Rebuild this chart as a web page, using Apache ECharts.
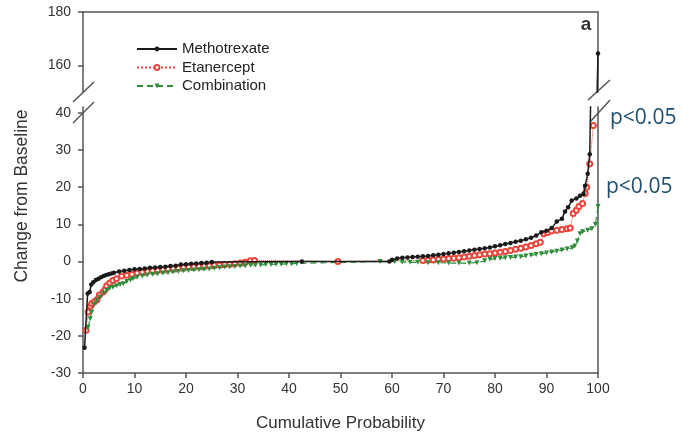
<!DOCTYPE html>
<html><head><meta charset="utf-8">
<script src="https://cdn.jsdelivr.net/npm/echarts@6/dist/echarts.min.js"></script>
<style>html,body{margin:0;padding:0;background:#fff}#c{width:689px;height:435px}</style>
</head><body><div id="c"></div>
<script>
// [cumulative probability %, change from baseline]
const methotrexate = [[0.3,-23.2],[0.9,-8.6],[1.3,-8.2],[1.6,-6.2],[2,-5.6],[2.5,-5.0],[3,-4.6],[3.5,-4.2],[4,-3.9],[4.5,-3.6],[5,-3.4],[5.5,-3.2],[6,-3.0],[7,-2.7],[8,-2.5],[9,-2.3],[10,-2.1],[11,-2.0],[12,-1.9],[13,-1.7],[14,-1.6],[15,-1.5],[16,-1.4],[17,-1.2],[18,-1.1],[19,-0.8],[20,-0.7],[21,-0.6],[22,-0.5],[23,-0.4],[24,-0.3],[25,-0.1],[42.5,0],[59.5,0],[60,0.5],[61,0.8],[62,1],[63,1.1],[64,1.2],[65,1.3],[66,1.4],[67,1.5],[68,1.7],[69,1.8],[70,2],[71,2.2],[72,2.4],[73,2.6],[74,2.8],[75,3],[76,3.2],[77,3.4],[78,3.6],[79,3.8],[80,4.1],[81,4.4],[82,4.7],[83,5],[84,5.3],[85,5.6],[86,6],[87,6.4],[88,7],[89,7.9],[90,8.3],[91,9],[92,10.8],[93,11.5],[93.6,13.5],[94.2,14.6],[94.9,16.4],[95.8,17],[96.5,17.7],[97.2,18.2],[97.5,20.4],[98,23.6],[98.4,28.9],[100,164.4]];
const etanercept = [[0.6,-18.5],[1.0,-13.6],[1.4,-12],[1.7,-11.3],[2.2,-10.8],[2.7,-10.3],[3.2,-9],[3.9,-8.2],[4.3,-7.5],[4.6,-6.5],[5.2,-5.8],[5.8,-5.1],[6.5,-4.6],[7.5,-3.9],[8.5,-3.7],[9.5,-3.4],[10.5,-3.1],[11.5,-2.9],[12.5,-2.7],[13.5,-2.5],[14.5,-2.4],[15.5,-2.2],[16.5,-2],[17.5,-1.9],[18.5,-1.8],[19.5,-1.6],[20.5,-1.5],[21.5,-1.4],[22.5,-1.3],[23.5,-1.2],[24.5,-1.1],[25.5,-1],[26.5,-0.9],[27.5,-0.8],[28.5,-0.7],[29.5,-0.6],[30.5,-0.4],[31.5,-0.2],[32.5,0.2],[33.3,0.3],[49.5,0],[66,0.3],[67,0.4],[68,0.5],[69,0.6],[70,0.7],[71,0.8],[72,0.9],[73,1],[74,1.2],[75,1.4],[76,1.6],[77,1.8],[78,2],[79,2.1],[80,2.3],[81,2.5],[82,2.7],[83,3],[84,3.3],[85,3.6],[86,3.9],[87,4.3],[88,4.8],[88.8,5.2],[89.5,7.5],[90.2,7.8],[91,8.2],[92,8.4],[93,8.6],[94,8.8],[94.6,9],[95.2,12.9],[95.8,13.8],[96.3,14.8],[97,15.6],[97.5,18.3],[97.8,20],[98.4,26.3],[99.1,36.6]];
const combination = [[1.0,-17.7],[1.4,-15.4],[1.7,-13.6],[2.2,-11.5],[2.7,-10.5],[3.3,-9.6],[4.0,-8.5],[4.6,-7.8],[5.2,-7.2],[5.8,-6.9],[6.5,-6.5],[7.2,-6.2],[7.8,-6.0],[8.5,-5.4],[9.2,-5.0],[9.7,-4.6],[10.5,-4.2],[11.5,-3.9],[12.5,-3.6],[13.5,-3.4],[14.5,-3.3],[15.5,-3.1],[16.5,-3.0],[17.5,-2.8],[18.5,-2.7],[19.5,-2.5],[20.5,-2.4],[21.5,-2.3],[22.5,-2.2],[23.5,-2.1],[24.5,-2.0],[25.5,-1.8],[26.5,-1.7],[27.5,-1.5],[28.5,-1.4],[29.5,-1.3],[30.5,-1.2],[31.5,-1.1],[32.5,-1.0],[33.5,-0.9],[34.5,-0.9],[35.5,-0.8],[36.5,-0.8],[37.5,-0.7],[38.5,-0.7],[39.5,-0.6],[40.5,-0.6],[41.5,-0.5],[57.7,0],[60.5,0],[62,-0.1],[63.5,-0.2],[65,-0.2],[67,-0.3],[69,-0.3],[71,-0.4],[73,-0.4],[75,-0.4],[76.5,-0.3],[78,0.2],[79,0.6],[80,0.8],[81,0.9],[82,1.0],[83,1.1],[84,1.2],[85,1.3],[86,1.5],[87,1.7],[88,1.9],[89,2.1],[90,2.3],[91,2.6],[92,2.8],[93,3.1],[94,3.4],[95,3.7],[95.5,4.2],[96,5.5],[96.5,7.5],[97,8.0],[98,8.4],[98.8,8.8],[99.5,10],[100,14.8]];
const seriesNames = ['Methotrexate','Etanercept','Combination'];
const upperTicks = [160, 180];
const lowerTicks = [-30, -20, -10, 0, 10, 20, 30, 40];
const xLabel = 'Cumulative Probability';
const yLabel = 'Change from Baseline';
const panelTag = 'a';
const sigNote = 'p<0.05';

const font = '"Liberation Sans", Arial, sans-serif';
const axisColor = '#555';
const labelColor = '#333';
const axLine = {show: true, onZero: false, lineStyle: {color: axisColor, width: 1.5}};
const noSplit = {show: false};

const mtxStyle = {type: 'line', symbol: 'circle', symbolSize: 4.5, color: '#1a1a1a',
  lineStyle: {color: '#1a1a1a', width: 1.5}, itemStyle: {color: '#1a1a1a'}};
const etaStyle = {type: 'line', symbol: 'emptyCircle', symbolSize: 5, color: '#e8463c',
  lineStyle: {color: '#e8463c', width: 1, type: 'dotted'}, itemStyle: {color: '#e8463c', borderColor: '#e8463c', borderWidth: 1.2}};
const comStyle = {type: 'line', symbol: 'triangle', symbolRotate: 180, symbolSize: 5, color: '#2e8b3a',
  lineStyle: {color: '#2e8b3a', width: 1.2, type: [6, 4]}, itemStyle: {color: '#2e8b3a'}};

const chart = echarts.init(document.getElementById('c'), null, {renderer: 'canvas'});
chart.setOption({
  animation: false,
  backgroundColor: '#fff',
  textStyle: {fontFamily: font},
  grid: [
    {left: 83, right: 91, top: 12, height: 80, containLabel: false, outerBoundsMode: 'none'},
    {left: 83, right: 91, top: 107, bottom: 62, containLabel: false, outerBoundsMode: 'none'}
  ],
  xAxis: [
    {gridIndex: 0, type: 'value', min: 0, max: 100, position: 'top', axisLine: axLine,
     axisTick: {show: false}, axisLabel: {show: false}, splitLine: noSplit},
    {gridIndex: 1, type: 'value', min: 0, max: 100, interval: 10, position: 'bottom', axisLine: axLine,
     axisTick: {show: true, length: 5, lineStyle: {color: axisColor, width: 1.5}},
     axisLabel: {fontSize: 14, color: labelColor, margin: 9, fontFamily: font}, splitLine: noSplit,
     name: xLabel, nameLocation: 'middle', nameGap: 42,
     nameTextStyle: {fontSize: 17, color: labelColor, fontFamily: font}}
  ],
  yAxis: [
    {gridIndex: 0, type: 'value', min: 150, max: 180, position: 'left', axisLine: axLine,
     axisTick: {show: true, customValues: upperTicks, length: 5, lineStyle: {color: axisColor, width: 1.5}},
     axisLabel: {customValues: upperTicks, fontSize: 14, color: labelColor, margin: 12, fontFamily: font},
     splitLine: noSplit},
    {gridIndex: 0, type: 'value', min: 150, max: 180, position: 'right', axisLine: axLine,
     axisTick: {show: false}, axisLabel: {show: false}, splitLine: noSplit},
    {gridIndex: 1, type: 'value', min: -30, max: 41.6, position: 'left', axisLine: axLine,
     axisTick: {show: true, customValues: lowerTicks, length: 5, lineStyle: {color: axisColor, width: 1.5}},
     axisLabel: {customValues: lowerTicks, fontSize: 14, color: labelColor, margin: 12, fontFamily: font},
     splitLine: noSplit},
    {gridIndex: 1, type: 'value', min: -30, max: 41.6, position: 'right', axisLine: axLine,
     axisTick: {show: false}, axisLabel: {show: false}, splitLine: noSplit}
  ],
  legend: {
    data: seriesNames, orient: 'vertical', left: 131, top: 36,
    itemWidth: 40, itemHeight: 6, itemGap: 2.5,
    textStyle: {fontSize: 15, color: '#222', fontFamily: font, lineHeight: 16}
  },
  series: [
    Object.assign({name: seriesNames[0], xAxisIndex: 1, yAxisIndex: 2, data: methotrexate, z: 4}, mtxStyle),
    Object.assign({name: seriesNames[1], xAxisIndex: 1, yAxisIndex: 2, data: etanercept, z: 3}, etaStyle),
    Object.assign({name: seriesNames[2], xAxisIndex: 1, yAxisIndex: 2, data: combination, z: 3}, comStyle),
    Object.assign({name: seriesNames[0], xAxisIndex: 0, yAxisIndex: 0, data: methotrexate, z: 4}, mtxStyle)
  ],
  graphic: [
    {type: 'line', shape: {x1: 73, y1: 102, x2: 94, y2: 82}, style: {stroke: axisColor, lineWidth: 1.5}},
    {type: 'line', shape: {x1: 73, y1: 123, x2: 94, y2: 102}, style: {stroke: axisColor, lineWidth: 1.5}},
    {type: 'line', shape: {x1: 588, y1: 100, x2: 610, y2: 80}, style: {stroke: axisColor, lineWidth: 1.5}},
    {type: 'line', shape: {x1: 590, y1: 122, x2: 610, y2: 100}, style: {stroke: axisColor, lineWidth: 1.5}},
    {type: 'text', x: 22, y: 196, rotation: Math.PI / 2,
     style: {text: yLabel, fontSize: 17.5, fill: labelColor, fontFamily: font, align: 'center', verticalAlign: 'middle'}},
    {type: 'text', x: 586, y: 25,
     style: {text: panelTag, fontSize: 19, fontWeight: 'bold', fill: '#333', fontFamily: font, align: 'center', verticalAlign: 'middle'}},
    {type: 'text', x: 610, y: 118,
     style: {text: sigNote, fontSize: 21, fill: '#1f4e6e', fontFamily: '"Open Sans", Lato, sans-serif', align: 'left', verticalAlign: 'middle'}},
    {type: 'text', x: 606, y: 187,
     style: {text: sigNote, fontSize: 21, fill: '#1f4e6e', fontFamily: '"Open Sans", Lato, sans-serif', align: 'left', verticalAlign: 'middle'}}
  ]
});
</script>
</body></html>
